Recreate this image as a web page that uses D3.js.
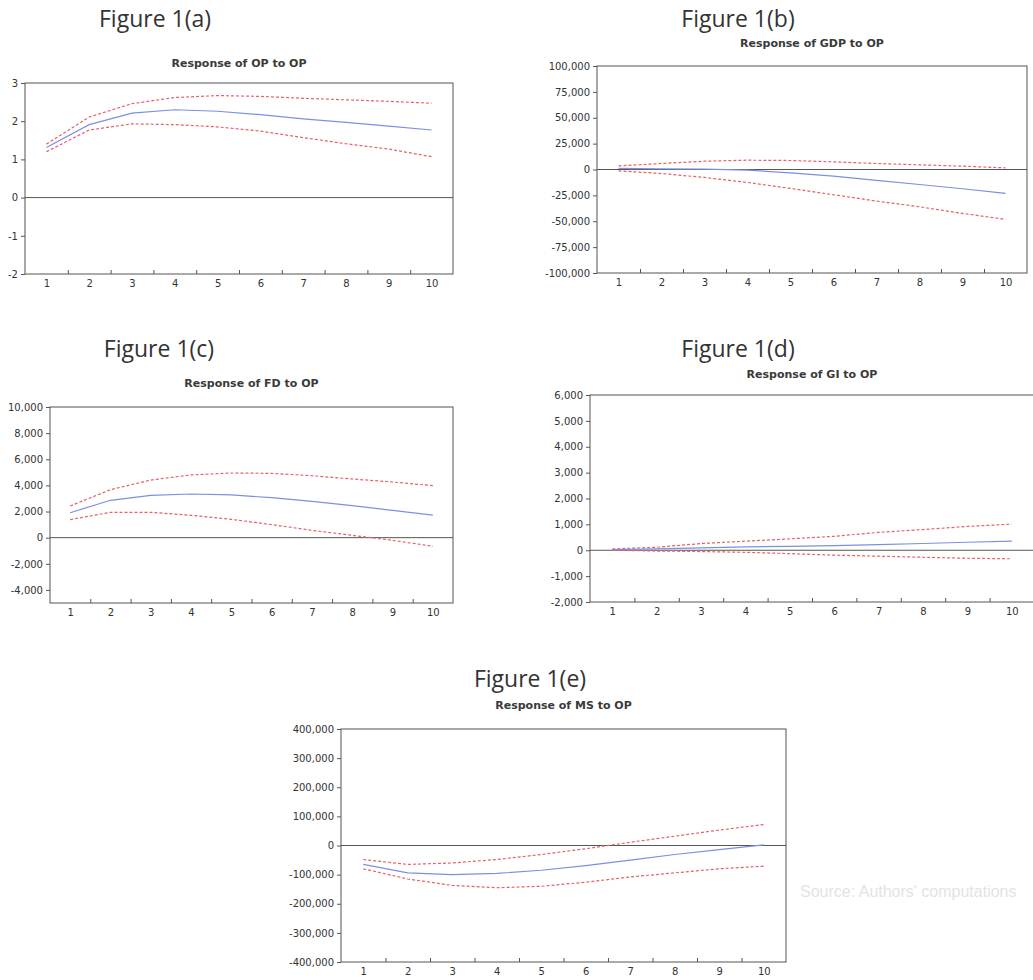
<!DOCTYPE html>
<meta charset="utf-8">
<style>
    body { margin: 0; background: #fff; }
    .fig-label { font-family: 'Open Sans', sans-serif; font-size: 23px; fill: #333; }
    .chart-title { font-family: 'DejaVu Sans', sans-serif; font-size: 11px; font-weight: bold; fill: #3a3a3a; }
    .axis text { font-family: 'DejaVu Sans', sans-serif; font-size: 10px; fill: #333; }
    .axis path, .axis line { stroke: #555; }
    .frame { fill: none; stroke: #555; stroke-width: 1px; }
    .zero-line { stroke: #555; stroke-width: 1px; }
    .irf { fill: none; stroke: #7d8fe2; stroke-width: 1.2px; }
    .band { fill: none; stroke: #e8606c; stroke-width: 1.2px; stroke-dasharray: 3,2; }
    .bleed { font-family: 'Liberation Sans', sans-serif; font-size: 16px; fill: #e3e3e3; }
</style>
<body>
<svg id="chart" width="1033" height="980"></svg>

<script src="https://cdn.jsdelivr.net/npm/d3@7"></script>
<script>
    var width = 1033,
        height = 980;

    // periods after the shock
    var horizons = [1, 2, 3, 4, 5, 6, 7, 8, 9, 10];

    // Figure 1(a) response of OP to OP
    var op_resp  = [1.31, 1.91, 2.21, 2.30, 2.26, 2.17, 2.06, 1.97, 1.87, 1.77];
    var op_upper = [1.40, 2.11, 2.46, 2.62, 2.67, 2.65, 2.60, 2.56, 2.52, 2.47];
    var op_lower = [1.20, 1.77, 1.93, 1.91, 1.85, 1.74, 1.57, 1.41, 1.27, 1.07];
    var op_ticks = [-2, -1, 0, 1, 2, 3];

    // Figure 1(b) response of GDP to OP
    var gdp_resp  = [1000, 600, 300, -600, -3200, -6400, -10600, -14500, -18600, -23000];
    var gdp_upper = [3500, 5800, 8000, 9000, 8700, 7400, 5800, 4500, 3200, 1600];
    var gdp_lower = [-1300, -3900, -7700, -12500, -18300, -24400, -30500, -36000, -42400, -48200];
    var gdp_ticks = [-100000, -75000, -50000, -25000, 0, 25000, 50000, 75000, 100000];

    // Figure 1(c) response of FD to OP
    var fd_resp  = [1910, 2860, 3240, 3340, 3270, 3060, 2780, 2450, 2090, 1730];
    var fd_upper = [2420, 3670, 4410, 4800, 4950, 4920, 4740, 4490, 4260, 3980];
    var fd_lower = [1380, 1940, 1940, 1710, 1400, 1000, 560, 180, -200, -660];
    var fd_ticks = [-4000, -2000, 0, 2000, 4000, 6000, 8000, 10000];

    // Figure 1(d) response of GI to OP
    var gi_resp  = [25, 50, 90, 130, 150, 180, 220, 260, 310, 350];
    var gi_upper = [50, 115, 260, 350, 440, 540, 690, 800, 920, 1010];
    var gi_lower = [0, -30, -50, -80, -130, -190, -230, -270, -310, -330];
    var gi_ticks = [-2000, -1000, 0, 1000, 2000, 3000, 4000, 5000, 6000];

    // Figure 1(e) response of MS to OP
    var ms_resp  = [-65000, -94000, -100000, -96000, -85000, -69000, -50000, -31000, -14000, 2000];
    var ms_upper = [-48000, -65000, -60000, -48000, -31000, -11000, 11000, 32000, 53000, 72000];
    var ms_lower = [-80000, -115000, -137000, -145000, -140000, -126000, -108000, -94000, -80000, -71000];
    var ms_ticks = [-400000, -300000, -200000, -100000, 0, 100000, 200000, 300000, 400000];

    var panels = [
        {label: "Figure 1(a)", title: "Response of OP to OP", resp: op_resp, upper: op_upper, lower: op_lower,
         ticks: op_ticks, yDomain: [-2, 3], box: [25, 83, 453, 274], labelX: 155, labelY: 27, titleY: 67},
        {label: "Figure 1(b)", title: "Response of GDP to OP", resp: gdp_resp, upper: gdp_upper, lower: gdp_lower,
         ticks: gdp_ticks, yDomain: [-100000, 100000], box: [597, 66, 1027, 273], labelX: 738, labelY: 27, titleY: 47},
        {label: "Figure 1(c)", title: "Response of FD to OP", resp: fd_resp, upper: fd_upper, lower: fd_lower,
         ticks: fd_ticks, yDomain: [-5000, 10000], box: [50, 407, 453, 603], labelX: 159, labelY: 357, titleY: 387},
        {label: "Figure 1(d)", title: "Response of GI to OP", resp: gi_resp, upper: gi_upper, lower: gi_lower,
         ticks: gi_ticks, yDomain: [-2000, 6000], box: [590, 395, 1034, 602], labelX: 738, labelY: 357, titleY: 378},
        {label: "Figure 1(e)", title: "Response of MS to OP", resp: ms_resp, upper: ms_upper, lower: ms_lower,
         ticks: ms_ticks, yDomain: [-400000, 400000], box: [341, 729, 786, 962], labelX: 530, labelY: 687, titleY: 709}
    ];

    var svg = d3.select("#chart");

    // faint show-through from the back of the scanned page
    svg.append("text")
        .attr("class", "bleed")
        .attr("x", 800)
        .attr("y", 897)
        .text("Source: Authors' computations");

    var fmt = d => d3.format(",")(d).replace("\u2212", "-");

    panels.forEach(p => {
        var x0 = p.box[0], y0 = p.box[1], x1 = p.box[2], y1 = p.box[3];

        var x = d3.scaleLinear().domain([0.5, 10.5]).range([x0, x1]);
        var y = d3.scaleLinear().domain(p.yDomain).range([y1, y0]);

        var g = svg.append("g");

        svg.append("text")
            .attr("class", "fig-label")
            .attr("x", p.labelX)
            .attr("y", p.labelY)
            .attr("text-anchor", "middle")
            .text(p.label);

        g.append("text")
            .attr("class", "chart-title")
            .attr("x", (x0 + x1) / 2)
            .attr("y", p.titleY)
            .attr("text-anchor", "middle")
            .text(p.title);

        g.append("line")
            .attr("class", "zero-line")
            .attr("x1", x0).attr("x2", x1)
            .attr("y1", y(0)).attr("y2", y(0));

        var line = d3.line()
            .x((d, i) => x(horizons[i]))
            .y(d => y(d));

        g.append("path").datum(p.upper).attr("class", "band").attr("d", line);
        g.append("path").datum(p.lower).attr("class", "band").attr("d", line);
        g.append("path").datum(p.resp).attr("class", "irf").attr("d", line);

        g.append("rect")
            .attr("class", "frame")
            .attr("x", x0).attr("y", y0)
            .attr("width", x1 - x0).attr("height", y1 - y0);

        g.append("g")
            .attr("class", "axis")
            .attr("transform", "translate(" + x0 + ",0)")
            .call(d3.axisLeft(y).tickValues(p.ticks).tickSize(4).tickPadding(3).tickFormat(fmt))
            .call(a => a.select(".domain").remove());

        // period labels sit on whole numbers, tick marks between them
        g.append("g")
            .attr("class", "axis")
            .attr("transform", "translate(0," + y1 + ")")
            .call(d3.axisBottom(x).tickValues(horizons).tickSize(0).tickPadding(6).tickFormat(d3.format("d")))
            .call(a => a.select(".domain").remove());

        g.append("g")
            .attr("class", "axis")
            .attr("transform", "translate(0," + y1 + ")")
            .call(d3.axisBottom(x).tickValues(d3.range(1.5, 10, 1)).tickSize(-4).tickFormat(""))
            .call(a => a.select(".domain").remove());
    });
</script>
</body>
